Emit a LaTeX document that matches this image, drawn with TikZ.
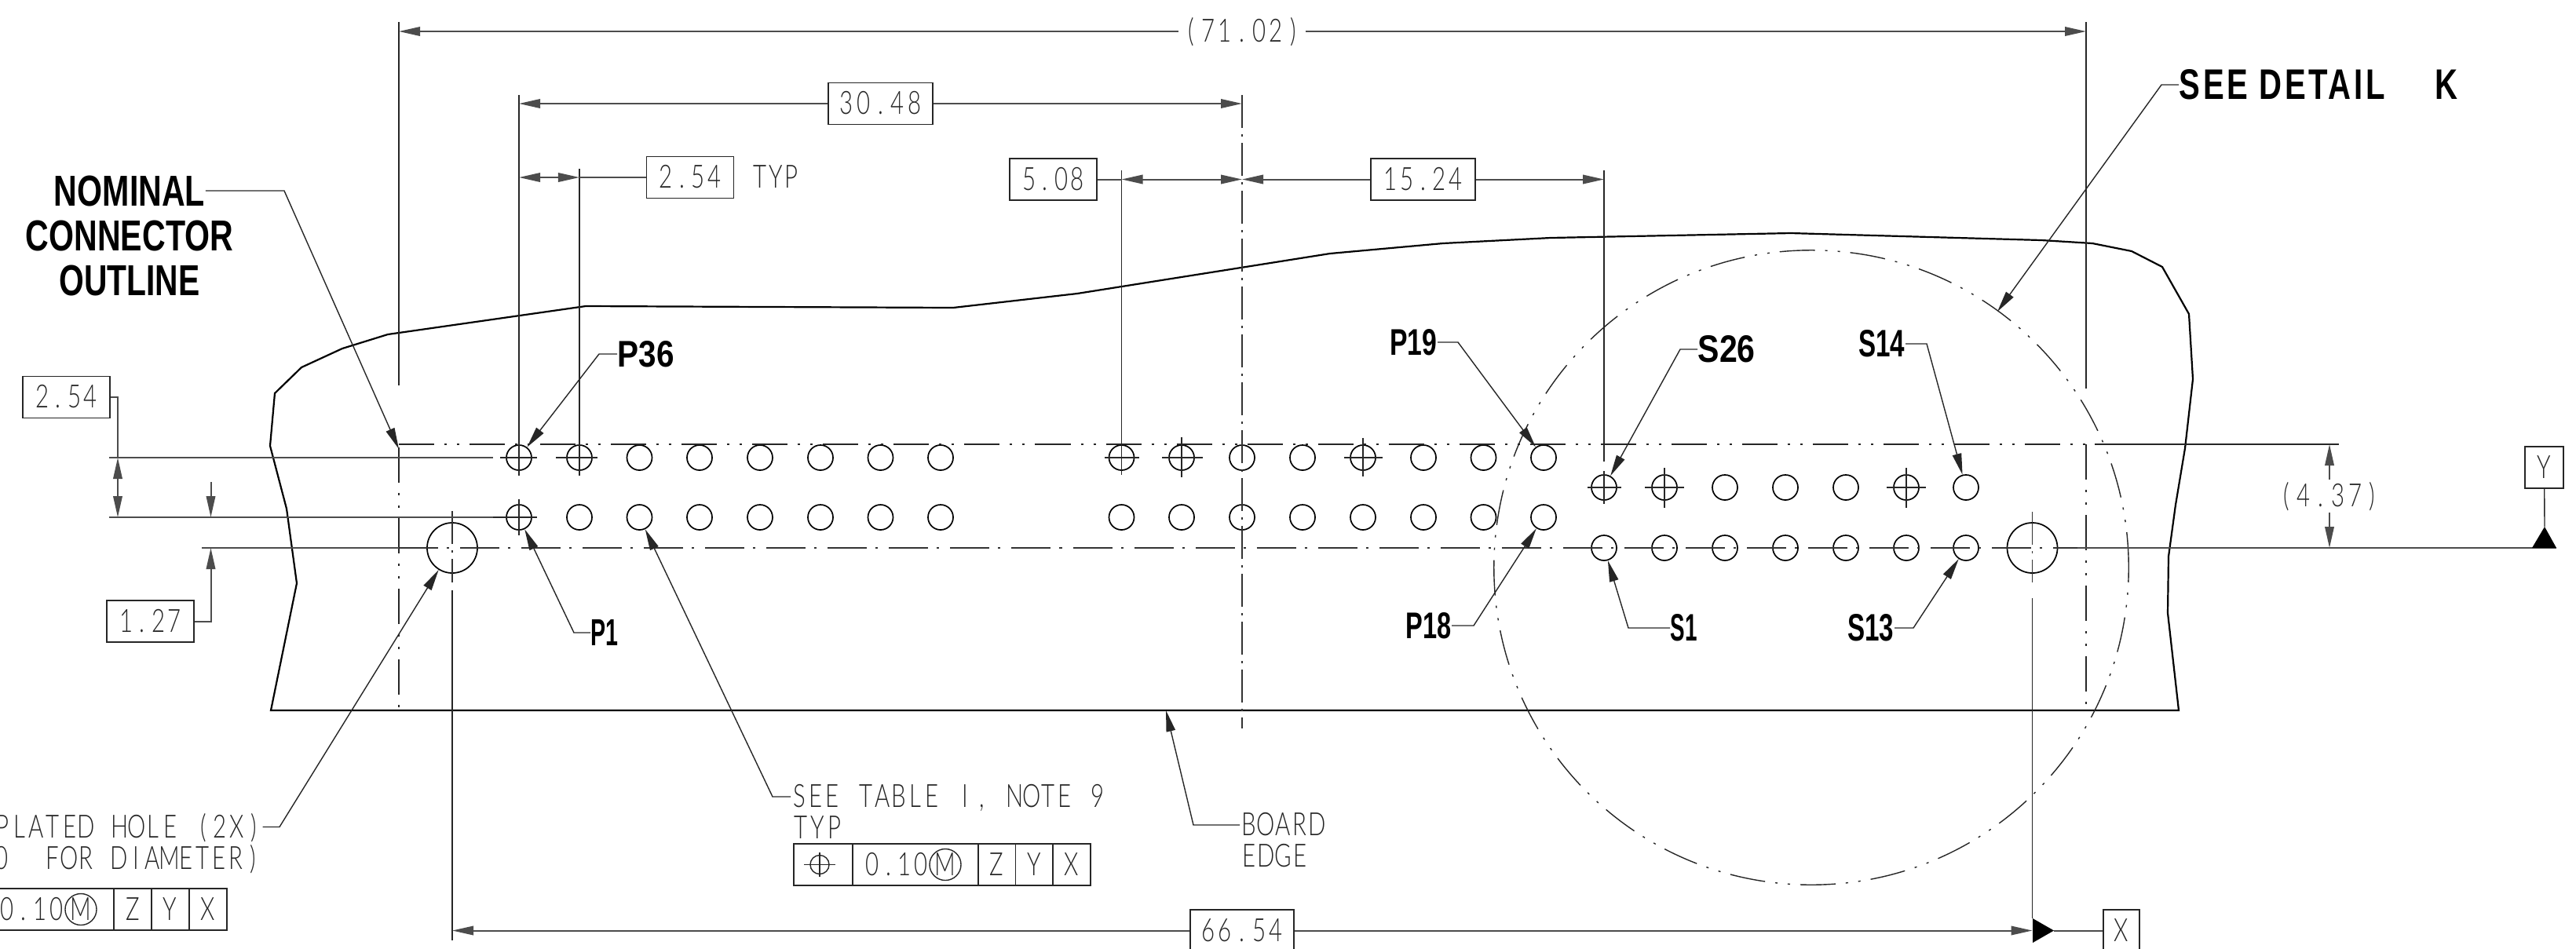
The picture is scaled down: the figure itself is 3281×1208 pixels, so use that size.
\documentclass[tikz,border=0pt]{standalone}
\usepackage{graphicx}
\usepackage{fontspec}
\setmainfont{Liberation Sans}
\newfontfamily\thinfont{Lato}[UprightFont=* Light]
\usetikzlibrary{arrows.meta}

\makeatletter
\newcommand{\mono}[2][.217cm]{\@tfor\nextchar:=#2\do{\makebox[#1][c]{\scalebox{.72}[1]{\nextchar}}}}
\makeatother
\newcommand{\boldlbl}[3]{\resizebox{#1cm}{#2cm}{\bfseries #3}}

\tikzset{
    >={Triangle[length=.27cm,width=.115cm]},
    thinline/.style={line width=.014cm, black!85},
    dimline/.style={line width=.02cm, black!70},
    outline/.style={line width=.022cm, black},
    phantom/.style={line width=.02cm, black!85, dash pattern=on .45cm off .13cm on .03cm off .13cm on .03cm off .13cm},
    centerline/.style={line width=.018cm, black!80, dash pattern=on .50cm off .11cm on .03cm off .14cm},
    centerup/.style={line width=.014cm, black!80, dash pattern=on .42cm off .08cm on .03cm off .08cm},
    hole/.style={circle, draw, line width=.017cm, inner sep=0, minimum size=.32cm},
    bighole/.style={circle, draw, line width=.017cm, inner sep=0, minimum size=.64cm},
    thintxt/.style={font=\thinfont\fontsize{11.6}{12}\selectfont, inner sep=0, text height=.27cm, text depth=0cm, black!85},
    dimbox/.style={thintxt, draw=black!85, line width=.018cm, minimum width=1.11cm, minimum height=.53cm},
    fcfcell/.style={thintxt, draw=black!85, line width=.018cm, minimum height=.53cm},
    circm/.style={thintxt, circle, draw=black!85, line width=.014cm, minimum size=.40cm},
    boldtxt/.style={inner sep=0, black},
}

\begin{document}
\begin{tikzpicture}[x=.01cm, y=-.01cm]
    \clip[use as bounding box] (0,0) rectangle (3281,1208);

    % board outline:
    \draw[outline] (345,905) -- (378,743) -- (365,648) -- (344,568) -- (350,501) -- (384,468) -- (436,444) -- (494,426) -- (746,390) -- (1214,392) -- (1372,374) -- (1694,323) -- (1838,310) -- (1975,303) -- (2281,297) -- (2600,306) -- (2665,310) -- (2715,320) -- (2754,340) -- (2788,400) -- (2793,483) -- (2783,571) -- (2771,643) -- (2762,709) -- (2761,781) -- (2775,905) -- cycle;

    % detail circle:
    \draw[phantom, line width=.014cm] (2307,723) circle (4.04cm);

    % holes, lower row:
    \node[hole] (p1) at (661,659) {};
    \node[hole] (p2) at (738,659) {};
    \node[hole] (p3) at (814.5,659) {};
    \node[hole] (p4) at (891,659) {};
    \node[hole] (p5) at (968,659) {};
    \node[hole] (p6) at (1045,659) {};
    \node[hole] (p7) at (1121.5,659) {};
    \node[hole] (p8) at (1198,659) {};
    \node[hole] (p11) at (1428.5,659) {};
    \node[hole] (p12) at (1505,659) {};
    \node[hole] (p13) at (1582,659) {};
    \node[hole] (p14) at (1659,659) {};
    \node[hole] (p15) at (1736,659) {};
    \node[hole] (p16) at (1813,659) {};
    \node[hole] (p17) at (1889.5,659) {};
    \node[hole] (p18) at (1966,659) {};

    % holes, upper row:
    \node[hole] (p36) at (661,583) {};
    \node[hole] (p35) at (738,583) {};
    \node[hole] (p34) at (814.5,583) {};
    \node[hole] (p33) at (891,583) {};
    \node[hole] (p32) at (968,583) {};
    \node[hole] (p31) at (1045,583) {};
    \node[hole] (p30) at (1121.5,583) {};
    \node[hole] (p29) at (1198,583) {};
    \node[hole] (p26) at (1428.5,583) {};
    \node[hole] (p25) at (1505,583) {};
    \node[hole] (p24) at (1582,583) {};
    \node[hole] (p23) at (1659,583) {};
    \node[hole] (p22) at (1736,583) {};
    \node[hole] (p21) at (1813,583) {};
    \node[hole] (p20) at (1889.5,583) {};
    \node[hole] (p19) at (1966,583) {};

    % holes, small section:
    \node[hole] (s26) at (2043,621) {};
    \node[hole] (s24) at (2120,621) {};
    \node[hole] (s22) at (2197,621) {};
    \node[hole] (s20) at (2274,621) {};
    \node[hole] (s18) at (2351,621) {};
    \node[hole] (s16) at (2428,621) {};
    \node[hole] (s14) at (2504,621) {};
    \node[hole] (s1) at (2043,698) {};
    \node[hole] (s3) at (2120,698) {};
    \node[hole] (s5) at (2197,698) {};
    \node[hole] (s7) at (2274,698) {};
    \node[hole] (s9) at (2351,698) {};
    \node[hole] (s11) at (2428,698) {};
    \node[hole] (s13) at (2504,698) {};

    % plated holes:
    \node[bighole] (platedl) at (576,698) {};
    \node[bighole] (platedr) at (2588.5,698) {};

    % center lines:
    \draw[phantom] (508,566) -- (2657,566);
    \draw[centerline] (508,698) -- (2646,698);
    \draw[phantom] (508,570) -- (508,905);
    \draw[phantom] (2657,566) -- (2657,905);
    \draw[centerup] (1582,121) -- (1582,928);
    \draw[centerup] (576,651) -- (576,742);
    \draw[centerup] (2588.5,652) -- (2588.5,742);

    % center marks:
    \draw[thinline] (637,583) -- (684,583);
    \draw[thinline] (708,583) -- (761,583);
    \draw[thinline] (661,636) -- (661,682);
    \draw[thinline] (684,659) -- (628,659);
    \draw[thinline] (1407,583) -- (1451,583);
    \draw[thinline] (1480,583) -- (1532,583);
    \draw[thinline] (1505,557) -- (1505,608);
    \draw[thinline] (1712,583) -- (1761,583);
    \draw[thinline] (1736,558) -- (1736,607);
    \draw[thinline] (2022,621) -- (2065,621);
    \draw[thinline] (2043,600) -- (2043,642);
    \draw[thinline] (2095,621) -- (2145,621);
    \draw[thinline] (2120,596) -- (2120,647);
    \draw[thinline] (2403,621) -- (2453,621);
    \draw[thinline] (2428,596) -- (2428,647);

    % extension lines:
    \draw[thinline] (508,28) -- (508,491);
    \draw[thinline] (2657,28) -- (2657,495);
    \draw[thinline] (661,121) -- (661,606);
    \draw[thinline] (738,215) -- (738,606);
    \draw[thinline] (1428.5,217) -- (1428.5,605);
    \draw[thinline] (2043,217) -- (2043,588);
    \draw[dimline] (139,583) -- (628,583);
    \draw[dimline] (139,659) -- (628,659);
    \draw[dimline] (257,698) -- (508,698);
    \draw[thinline] (2668,566) -- (2979,566);
    \draw[dimline] (2646,698) -- (3256,698);
    \draw[thinline] (576,752) -- (576,1198);
    \draw[thinline] (2588.5,762) -- (2588.5,1170);

    % dimensions, top:
    \node[thintxt, minimum width=1.6cm] (dimtotal) at (1582,40) {\mono{(71.02)}};
    \coordinate (dimtotall) at (508,40);
    \coordinate (dimtotalr) at (2657,40);
    \draw[dimline, <-] (dimtotall) -- (dimtotal);
    \draw[dimline, ->] (dimtotal) -- (dimtotalr);

    \node[dimbox, minimum width=1.33cm] (dimrow) at (1121.5,132) {\mono{30.48}};
    \draw[dimline, <-] (p36 |- dimrow) -- (dimrow);
    \draw[dimline, ->] (dimrow) -- (p24 |- dimrow);

    \node[dimbox] (dimpitch) at (879,226) {\mono[.205cm]{2.54}};
    \node[thintxt] (typa) at (988,226) {\mono[.195cm]{TYP}};
    \draw[dimline, <->] (p36 |- dimpitch) -- (p35 |- dimpitch);
    \draw[dimline] (p35 |- dimpitch) -- (dimpitch);

    \node[dimbox] (dimtwo) at (1341.5,228.5) {\mono[.205cm]{5.08}};
    \node[dimbox, minimum width=1.33cm] (dimsix) at (1812.5,228.5) {\mono[.205cm]{15.24}};
    \draw[dimline] (dimtwo) -- (p26 |- dimtwo);
    \draw[dimline, <->] (p26 |- dimtwo) -- (p24 |- dimtwo);
    \draw[dimline, <-] (p24 |- dimsix) -- (dimsix);
    \draw[dimline, ->] (dimsix) -- (s26 |- dimsix);

    % dimensions, left:
    \node[dimbox] (dimrows) at (84.5,506) {\mono[.205cm]{2.54}};
    \draw[dimline] (dimrows) -- (150,506) -- (150,583);
    \draw[dimline, <->] (150,583) -- (150,659);

    \node[dimbox] (dimhalf) at (191.5,791.5) {\mono[.205cm]{1.27}};
    \draw[dimline, ->] (268.5,614) -- (268.5,659);
    \draw[dimline, <-] (268.5,698) -- (268.5,791.5) -- (dimhalf);

    % dimensions, right:
    \node[thintxt, minimum height=.40cm, minimum width=1.6cm] (dimheight) at (2967,632) {\mono{(4.37)}};
    \draw[dimline, <-] (2967,566) -- (dimheight);
    \draw[dimline, ->] (dimheight) -- (2967,698);

    % datum Y:
    \node[dimbox, minimum width=.485cm] (datumy) at (3240.5,595.5) {\mono{Y}};
    \coordinate (datumytip) at (3241,671);
    \fill (3225,698) -- (3256,698) -- (datumytip) -- cycle;
    \draw[thinline] (datumy) -- (datumytip);

    % dimension and datum X, bottom:
    \node[dimbox, minimum width=1.32cm] (dimholes) at (1582,1185.5) {\mono{66.54}};
    \node[dimbox, minimum width=.465cm] (datumx) at (2702,1185.5) {\mono{X}};
    \coordinate (datumxtip) at (2616,1185.5);
    \fill (2589,1170) -- (2589,1201) -- (datumxtip) -- cycle;
    \draw[dimline, <-] (platedl |- dimholes) -- (dimholes);
    \draw[dimline, ->] (dimholes) -- (platedr |- dimholes);
    \draw[dimline] (datumxtip) -- (datumx);

    % bold labels:
    \node[boldtxt] (lblnom) at (165,243) {\boldlbl{1.92}{.385}{NOMINAL}};
    \node[boldtxt] (lblcon) at (165,300) {\boldlbl{2.64}{.385}{CONNECTOR}};
    \node[boldtxt] (lblout) at (165,357) {\boldlbl{1.79}{.385}{OUTLINE}};
    \node[boldtxt, anchor=west] (lblsee) at (2775,108) {\boldlbl{3.55}{.38}{\addfontfeature{LetterSpace=9}SEE DETAIL\hspace{1.6em}K}};
    \node[boldtxt, anchor=west] (lblp36) at (786,451) {\boldlbl{.72}{.33}{P36}};
    \node[boldtxt, anchor=west] (lblp1) at (752,806) {\boldlbl{.35}{.33}{P1}};
    \node[boldtxt, anchor=east] (lblp19) at (1831,436) {\boldlbl{.60}{.33}{P19}};
    \node[boldtxt, anchor=east] (lblp18) at (1849,797) {\boldlbl{.58}{.33}{P18}};
    \node[boldtxt, anchor=west] (lbls26) at (2162,445) {\boldlbl{.73}{.34}{S26}};
    \node[boldtxt, anchor=east] (lbls14) at (2427,438) {\boldlbl{.59}{.34}{S14}};
    \node[boldtxt, anchor=west] (lbls1) at (2127,800) {\boldlbl{.34}{.34}{S1}};
    \node[boldtxt, anchor=east] (lbls13) at (2413,800) {\boldlbl{.59}{.34}{S13}};

    % thin notes:
    \node[thintxt, anchor=east] (noteplateda) at (334.5,1053.5) {\mono[.213cm]{PLATED~HOLE~(2X)}};
    \node[thintxt, anchor=east] (noteplatedb) at (333.5,1093.5) {\mono[.213cm]{0~~FOR~DIAMETER)}};
    \node[thintxt, anchor=west] (notetable) at (1007,1015) {\mono[.211cm]{SEE~TABLE~I,~NOTE~9}};
    \node[thintxt, anchor=west] (notetyp) at (1009,1055) {\mono[.211cm]{TYP}};
    \node[thintxt, anchor=west] (noteboard) at (1579,1051) {\mono{BOARD}};
    \node[thintxt, anchor=west] (noteedge) at (1579,1091) {\mono{EDGE}};

    % leaders:
    \draw[thinline, ->] (lblnom.east) -- (362,243) -- (508,572);
    \draw[thinline, ->] (lblsee.west) -- (2753,108) -- (2544,397);
    \draw[thinline, ->] (lblp36.west) -- (763,451) -- (p36);
    \draw[thinline, ->] (lblp1.west) -- (731,806) -- (p1);
    \draw[thinline, ->] (lblp19.east) -- (1857,436) -- (p19);
    \draw[thinline, ->] (lblp18.east) -- (1877,797) -- (p18);
    \draw[thinline, ->] (lbls26.west) -- (2140,445) -- (s26);
    \draw[thinline, ->] (lbls14.east) -- (2454,438) -- (s14);
    \draw[thinline, ->] (lbls1.west) -- (2074,800) -- (s1);
    \draw[thinline, ->] (lbls13.east) -- (2437,800) -- (s13);
    \draw[thinline, ->] (noteplateda.east) -- (356,1053.5) -- (platedl);
    \draw[thinline, ->] (notetable.west) -- (984,1015) -- (p3);
    \draw[thinline, ->] (noteboard.west) -- (1520,1051) -- (1485,905);

    % feature control frame, left:
    \node[fcfcell, minimum width=1.76cm] (fcflval) at (57.3,1158.5) {};
    \node[thintxt] (fcflnum) at (40.5,1158.5) {\mono[.207cm]{0.10}};
    \node[circm] (fcflm) at (103,1158.5) {\mono{M}};
    \node[fcfcell, minimum width=.48cm] (fcflz) at (169,1158.5) {\mono{Z}};
    \node[fcfcell, minimum width=.48cm] (fcfly) at (216.7,1158.5) {\mono{Y}};
    \node[fcfcell, minimum width=.48cm] (fcflx) at (264.7,1158.5) {\mono{X}};

    % feature control frame, table note:
    \node[fcfcell, minimum width=.75cm] (fcfrpos) at (1048.5,1101.5) {};
    \node[circle, draw, thinline, inner sep=0, minimum size=.24cm] (fcfrsym) at (1044,1101.5) {};
    \draw[thinline] (1024,1101.5) -- (1064,1101.5);
    \draw[thinline] (1044,1086) -- (1044,1117);
    \node[fcfcell, minimum width=1.60cm] (fcfrval) at (1166,1101.5) {};
    \node[thintxt] (fcfrnum) at (1142,1101.5) {\mono[.207cm]{0.10}};
    \node[circm] (fcfrm) at (1204,1101.5) {\mono{M}};
    \node[fcfcell, minimum width=.475cm] (fcfrz) at (1269.7,1101.5) {\mono{Z}};
    \node[fcfcell, minimum width=.475cm] (fcfry) at (1317.2,1101.5) {\mono{Y}};
    \node[fcfcell, minimum width=.48cm] (fcfrx) at (1365,1101.5) {\mono{X}};
\end{tikzpicture}
\end{document}
